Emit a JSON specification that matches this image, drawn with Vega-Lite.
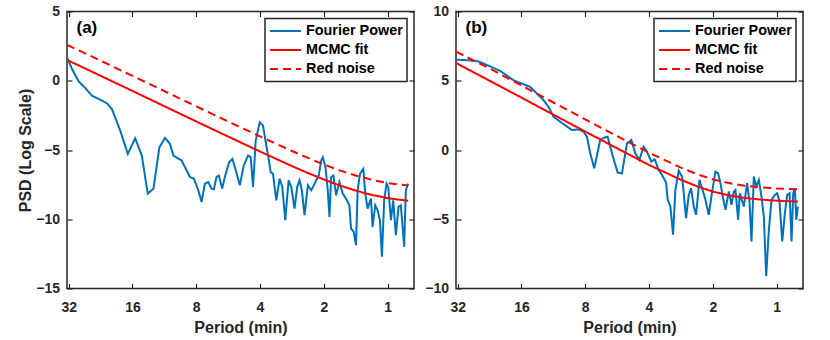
{
  "$schema": "https://vega.github.io/schema/vega-lite/v6.json",
  "padding": {"left": 17, "top": 3.5, "right": 5, "bottom": 5},
  "spacing": 8,
  "datasets": {
    "a": [
      {"series": "Fourier Power", "period": 32.57, "psd": 1.68},
      {"series": "Fourier Power", "period": 30.85, "psd": 0.84},
      {"series": "Fourier Power", "period": 28.71, "psd": -0.05},
      {"series": "Fourier Power", "period": 26.71, "psd": -0.53},
      {"series": "Fourier Power", "period": 24.84, "psd": -1.08},
      {"series": "Fourier Power", "period": 22.70, "psd": -1.37},
      {"series": "Fourier Power", "period": 21.12, "psd": -1.63},
      {"series": "Fourier Power", "period": 20.01, "psd": -2.04},
      {"series": "Fourier Power", "period": 18.28, "psd": -3.60},
      {"series": "Fourier Power", "period": 16.83, "psd": -5.28},
      {"series": "Fourier Power", "period": 15.54, "psd": -4.15},
      {"series": "Fourier Power", "period": 14.46, "psd": -5.40},
      {"series": "Fourier Power", "period": 13.55, "psd": -8.15},
      {"series": "Fourier Power", "period": 12.74, "psd": -7.79},
      {"series": "Fourier Power", "period": 11.94, "psd": -4.80},
      {"series": "Fourier Power", "period": 11.23, "psd": -4.13},
      {"series": "Fourier Power", "period": 10.64, "psd": -4.56},
      {"series": "Fourier Power", "period": 10.26, "psd": -5.40},
      {"series": "Fourier Power", "period": 9.373, "psd": -5.76},
      {"series": "Fourier Power", "period": 9.043, "psd": -6.24},
      {"series": "Fourier Power", "period": 8.566, "psd": -6.95},
      {"series": "Fourier Power", "period": 8.202, "psd": -7.07},
      {"series": "Fourier Power", "period": 7.824, "psd": -7.91},
      {"series": "Fourier Power", "period": 7.548, "psd": -8.75},
      {"series": "Fourier Power", "period": 7.283, "psd": -7.43},
      {"series": "Fourier Power", "period": 7.024, "psd": -7.31},
      {"series": "Fourier Power", "period": 6.774, "psd": -7.79},
      {"series": "Fourier Power", "period": 6.605, "psd": -7.84},
      {"series": "Fourier Power", "period": 6.416, "psd": -6.95},
      {"series": "Fourier Power", "period": 6.256, "psd": -6.84},
      {"series": "Fourier Power", "period": 6.035, "psd": -7.79},
      {"series": "Fourier Power", "period": 5.863, "psd": -6.95},
      {"series": "Fourier Power", "period": 5.594, "psd": -5.88},
      {"series": "Fourier Power", "period": 5.396, "psd": -5.64},
      {"series": "Fourier Power", "period": 5.203, "psd": -6.48},
      {"series": "Fourier Power", "period": 4.983, "psd": -7.55},
      {"series": "Fourier Power", "period": 4.774, "psd": -6.12},
      {"series": "Fourier Power", "period": 4.554, "psd": -5.40},
      {"series": "Fourier Power", "period": 4.426, "psd": -5.52},
      {"series": "Fourier Power", "period": 4.314, "psd": -7.67},
      {"series": "Fourier Power", "period": 4.192, "psd": -4.32},
      {"series": "Fourier Power", "period": 4.013, "psd": -3.00},
      {"series": "Fourier Power", "period": 3.871, "psd": -3.24},
      {"series": "Fourier Power", "period": 3.734, "psd": -4.68},
      {"series": "Fourier Power", "period": 3.641, "psd": -5.64},
      {"series": "Fourier Power", "period": 3.562, "psd": -6.60},
      {"series": "Fourier Power", "period": 3.475, "psd": -6.72},
      {"series": "Fourier Power", "period": 3.350, "psd": -8.63},
      {"series": "Fourier Power", "period": 3.232, "psd": -7.07},
      {"series": "Fourier Power", "period": 3.139, "psd": -7.67},
      {"series": "Fourier Power", "period": 3.040, "psd": -10.07},
      {"series": "Fourier Power", "period": 2.931, "psd": -7.19},
      {"series": "Fourier Power", "period": 2.848, "psd": -7.67},
      {"series": "Fourier Power", "period": 2.748, "psd": -9.23},
      {"series": "Fourier Power", "period": 2.670, "psd": -7.67},
      {"series": "Fourier Power", "period": 2.603, "psd": -7.19},
      {"series": "Fourier Power", "period": 2.538, "psd": -7.91},
      {"series": "Fourier Power", "period": 2.465, "psd": -9.71},
      {"series": "Fourier Power", "period": 2.377, "psd": -7.55},
      {"series": "Fourier Power", "period": 2.293, "psd": -7.91},
      {"series": "Fourier Power", "period": 2.228, "psd": -7.55},
      {"series": "Fourier Power", "period": 2.172, "psd": -7.19},
      {"series": "Fourier Power", "period": 2.111, "psd": -6.84},
      {"series": "Fourier Power", "period": 2.058, "psd": -5.76},
      {"series": "Fourier Power", "period": 2.021, "psd": -5.52},
      {"series": "Fourier Power", "period": 1.963, "psd": -6.24},
      {"series": "Fourier Power", "period": 1.915, "psd": -7.91},
      {"series": "Fourier Power", "period": 1.880, "psd": -9.83},
      {"series": "Fourier Power", "period": 1.846, "psd": -6.95},
      {"series": "Fourier Power", "period": 1.801, "psd": -6.84},
      {"series": "Fourier Power", "period": 1.749, "psd": -8.27},
      {"series": "Fourier Power", "period": 1.687, "psd": -7.31},
      {"series": "Fourier Power", "period": 1.628, "psd": -8.15},
      {"series": "Fourier Power", "period": 1.570, "psd": -8.51},
      {"series": "Fourier Power", "period": 1.514, "psd": -8.99},
      {"series": "Fourier Power", "period": 1.487, "psd": -10.67},
      {"series": "Fourier Power", "period": 1.445, "psd": -10.91},
      {"series": "Fourier Power", "period": 1.409, "psd": -11.87},
      {"series": "Fourier Power", "period": 1.384, "psd": -7.91},
      {"series": "Fourier Power", "period": 1.349, "psd": -6.72},
      {"series": "Fourier Power", "period": 1.301, "psd": -6.36},
      {"series": "Fourier Power", "period": 1.274, "psd": -8.15},
      {"series": "Fourier Power", "period": 1.242, "psd": -9.23},
      {"series": "Fourier Power", "period": 1.198, "psd": -8.51},
      {"series": "Fourier Power", "period": 1.176, "psd": -10.55},
      {"series": "Fourier Power", "period": 1.143, "psd": -8.99},
      {"series": "Fourier Power", "period": 1.114, "psd": -9.35},
      {"series": "Fourier Power", "period": 1.086, "psd": -10.07},
      {"series": "Fourier Power", "period": 1.063, "psd": -12.71},
      {"series": "Fourier Power", "period": 1.037, "psd": -8.63},
      {"series": "Fourier Power", "period": 1.011, "psd": -7.43},
      {"series": "Fourier Power", "period": 0.9925, "psd": -7.67},
      {"series": "Fourier Power", "period": 0.9642, "psd": -10.07},
      {"series": "Fourier Power", "period": 0.9401, "psd": -8.63},
      {"series": "Fourier Power", "period": 0.9135, "psd": -11.15},
      {"series": "Fourier Power", "period": 0.8875, "psd": -9.11},
      {"series": "Fourier Power", "period": 0.8653, "psd": -8.99},
      {"series": "Fourier Power", "period": 0.8346, "psd": -11.99},
      {"series": "Fourier Power", "period": 0.8197, "psd": -7.91},
      {"series": "Fourier Power", "period": 0.7993, "psd": -7.43},
      {"series": "MCMC fit", "period": 32.57, "psd": 1.50},
      {"series": "MCMC fit", "period": 22.63, "psd": 0.36},
      {"series": "MCMC fit", "period": 16, "psd": -0.74},
      {"series": "MCMC fit", "period": 11.31, "psd": -1.84},
      {"series": "MCMC fit", "period": 8, "psd": -2.94},
      {"series": "MCMC fit", "period": 5.657, "psd": -4.03},
      {"series": "MCMC fit", "period": 4, "psd": -5.11},
      {"series": "MCMC fit", "period": 2.828, "psd": -6.16},
      {"series": "MCMC fit", "period": 2.378, "psd": -6.66},
      {"series": "MCMC fit", "period": 2, "psd": -7.13},
      {"series": "MCMC fit", "period": 1.682, "psd": -7.56},
      {"series": "MCMC fit", "period": 1.414, "psd": -7.93},
      {"series": "MCMC fit", "period": 1.189, "psd": -8.24},
      {"series": "MCMC fit", "period": 1, "psd": -8.47},
      {"series": "MCMC fit", "period": 0.901, "psd": -8.57},
      {"series": "MCMC fit", "period": 0.7993, "psd": -8.66},
      {"series": "Red noise", "period": 32.57, "psd": 2.59},
      {"series": "Red noise", "period": 22.63, "psd": 1.45},
      {"series": "Red noise", "period": 16, "psd": 0.35},
      {"series": "Red noise", "period": 11.31, "psd": -0.75},
      {"series": "Red noise", "period": 8, "psd": -1.85},
      {"series": "Red noise", "period": 5.657, "psd": -2.94},
      {"series": "Red noise", "period": 4, "psd": -4.02},
      {"series": "Red noise", "period": 2.828, "psd": -5.07},
      {"series": "Red noise", "period": 2.378, "psd": -5.57},
      {"series": "Red noise", "period": 2, "psd": -6.04},
      {"series": "Red noise", "period": 1.682, "psd": -6.47},
      {"series": "Red noise", "period": 1.414, "psd": -6.84},
      {"series": "Red noise", "period": 1.189, "psd": -7.15},
      {"series": "Red noise", "period": 1, "psd": -7.38},
      {"series": "Red noise", "period": 0.901, "psd": -7.48},
      {"series": "Red noise", "period": 0.7993, "psd": -7.57}
    ],
    "b": [
      {"series": "Fourier Power", "period": 32.59, "psd": 6.52},
      {"series": "Fourier Power", "period": 28.49, "psd": 6.48},
      {"series": "Fourier Power", "period": 25.55, "psd": 6.40},
      {"series": "Fourier Power", "period": 22.51, "psd": 6.04},
      {"series": "Fourier Power", "period": 20.18, "psd": 5.71},
      {"series": "Fourier Power", "period": 17.46, "psd": 5.04},
      {"series": "Fourier Power", "period": 16.23, "psd": 4.84},
      {"series": "Fourier Power", "period": 14.56, "psd": 4.56},
      {"series": "Fourier Power", "period": 13.54, "psd": 4.08},
      {"series": "Fourier Power", "period": 12.59, "psd": 3.60},
      {"series": "Fourier Power", "period": 11.93, "psd": 3.12},
      {"series": "Fourier Power", "period": 11.29, "psd": 2.40},
      {"series": "Fourier Power", "period": 10.50, "psd": 2.04},
      {"series": "Fourier Power", "period": 9.251, "psd": 1.44},
      {"series": "Fourier Power", "period": 8.602, "psd": 1.49},
      {"series": "Fourier Power", "period": 8.147, "psd": 1.32},
      {"series": "Fourier Power", "period": 7.856, "psd": 0.96},
      {"series": "Fourier Power", "period": 7.578, "psd": -0.24},
      {"series": "Fourier Power", "period": 7.254, "psd": -1.32},
      {"series": "Fourier Power", "period": 6.797, "psd": 0.72},
      {"series": "Fourier Power", "period": 6.506, "psd": 0.89},
      {"series": "Fourier Power", "period": 6.275, "psd": 0.96},
      {"series": "Fourier Power", "period": 5.920, "psd": -0.48},
      {"series": "Fourier Power", "period": 5.626, "psd": -1.63},
      {"series": "Fourier Power", "period": 5.366, "psd": -1.68},
      {"series": "Fourier Power", "period": 5.082, "psd": 0.48},
      {"series": "Fourier Power", "period": 4.848, "psd": 0.72},
      {"series": "Fourier Power", "period": 4.643, "psd": -0.24},
      {"series": "Fourier Power", "period": 4.445, "psd": -0.72},
      {"series": "Fourier Power", "period": 4.240, "psd": 0.24},
      {"series": "Fourier Power", "period": 4.090, "psd": -0.12},
      {"series": "Fourier Power", "period": 3.900, "psd": -0.84},
      {"series": "Fourier Power", "period": 3.761, "psd": -0.67},
      {"series": "Fourier Power", "period": 3.600, "psd": -1.44},
      {"series": "Fourier Power", "period": 3.472, "psd": -1.80},
      {"series": "Fourier Power", "period": 3.324, "psd": -2.35},
      {"series": "Fourier Power", "period": 3.264, "psd": -3.60},
      {"series": "Fourier Power", "period": 3.170, "psd": -4.08},
      {"series": "Fourier Power", "period": 3.080, "psd": -6.12},
      {"series": "Fourier Power", "period": 3.003, "psd": -2.88},
      {"series": "Fourier Power", "period": 2.896, "psd": -1.49},
      {"series": "Fourier Power", "period": 2.793, "psd": -1.92},
      {"series": "Fourier Power", "period": 2.742, "psd": -3.12},
      {"series": "Fourier Power", "period": 2.674, "psd": -4.92},
      {"series": "Fourier Power", "period": 2.597, "psd": -3.24},
      {"series": "Fourier Power", "period": 2.532, "psd": -2.76},
      {"series": "Fourier Power", "period": 2.459, "psd": -4.08},
      {"series": "Fourier Power", "period": 2.398, "psd": -4.68},
      {"series": "Fourier Power", "period": 2.312, "psd": -2.16},
      {"series": "Fourier Power", "period": 2.246, "psd": -2.76},
      {"series": "Fourier Power", "period": 2.166, "psd": -3.60},
      {"series": "Fourier Power", "period": 2.089, "psd": -4.68},
      {"series": "Fourier Power", "period": 2.014, "psd": -3.00},
      {"series": "Fourier Power", "period": 1.943, "psd": -1.56},
      {"series": "Fourier Power", "period": 1.887, "psd": -1.68},
      {"series": "Fourier Power", "period": 1.840, "psd": -2.40},
      {"series": "Fourier Power", "period": 1.794, "psd": -3.36},
      {"series": "Fourier Power", "period": 1.742, "psd": -4.32},
      {"series": "Fourier Power", "period": 1.680, "psd": -3.00},
      {"series": "Fourier Power", "period": 1.632, "psd": -3.96},
      {"series": "Fourier Power", "period": 1.591, "psd": -3.00},
      {"series": "Fourier Power", "period": 1.563, "psd": -2.88},
      {"series": "Fourier Power", "period": 1.518, "psd": -5.04},
      {"series": "Fourier Power", "period": 1.491, "psd": -3.12},
      {"series": "Fourier Power", "period": 1.427, "psd": -4.08},
      {"series": "Fourier Power", "period": 1.377, "psd": -2.40},
      {"series": "Fourier Power", "period": 1.342, "psd": -3.72},
      {"series": "Fourier Power", "period": 1.313, "psd": -6.60},
      {"series": "Fourier Power", "period": 1.280, "psd": -1.92},
      {"series": "Fourier Power", "period": 1.248, "psd": -2.64},
      {"series": "Fourier Power", "period": 1.212, "psd": -2.16},
      {"series": "Fourier Power", "period": 1.178, "psd": -3.36},
      {"series": "Fourier Power", "period": 1.148, "psd": -4.80},
      {"series": "Fourier Power", "period": 1.119, "psd": -9.11},
      {"series": "Fourier Power", "period": 1.087, "psd": -5.76},
      {"series": "Fourier Power", "period": 1.056, "psd": -3.60},
      {"series": "Fourier Power", "period": 1.018, "psd": -3.24},
      {"series": "Fourier Power", "period": 0.993, "psd": -3.12},
      {"series": "Fourier Power", "period": 0.968, "psd": -3.72},
      {"series": "Fourier Power", "period": 0.940, "psd": -6.60},
      {"series": "Fourier Power", "period": 0.9133, "psd": -4.56},
      {"series": "Fourier Power", "period": 0.8904, "psd": -3.24},
      {"series": "Fourier Power", "period": 0.8680, "psd": -3.12},
      {"series": "Fourier Power", "period": 0.8493, "psd": -6.60},
      {"series": "Fourier Power", "period": 0.8340, "psd": -3.12},
      {"series": "Fourier Power", "period": 0.8190, "psd": -2.76},
      {"series": "Fourier Power", "period": 0.8072, "psd": -5.04},
      {"series": "Fourier Power", "period": 0.7927, "psd": -4.08},
      {"series": "MCMC fit", "period": 32.59, "psd": 6.28},
      {"series": "MCMC fit", "period": 22.63, "psd": 5.00},
      {"series": "MCMC fit", "period": 16, "psd": 3.78},
      {"series": "MCMC fit", "period": 11.31, "psd": 2.55},
      {"series": "MCMC fit", "period": 8, "psd": 1.33},
      {"series": "MCMC fit", "period": 5.657, "psd": 0.12},
      {"series": "MCMC fit", "period": 4, "psd": -1.08},
      {"series": "MCMC fit", "period": 2.828, "psd": -2.15},
      {"series": "MCMC fit", "period": 2.378, "psd": -2.62},
      {"series": "MCMC fit", "period": 2, "psd": -3.00},
      {"series": "MCMC fit", "period": 1.682, "psd": -3.27},
      {"series": "MCMC fit", "period": 1.414, "psd": -3.46},
      {"series": "MCMC fit", "period": 1.189, "psd": -3.58},
      {"series": "MCMC fit", "period": 1, "psd": -3.66},
      {"series": "MCMC fit", "period": 0.7927, "psd": -3.72},
      {"series": "Red noise", "period": 32.59, "psd": 7.10},
      {"series": "Red noise", "period": 22.63, "psd": 5.88},
      {"series": "Red noise", "period": 16, "psd": 4.66},
      {"series": "Red noise", "period": 11.31, "psd": 3.43},
      {"series": "Red noise", "period": 8, "psd": 2.21},
      {"series": "Red noise", "period": 5.657, "psd": 1.00},
      {"series": "Red noise", "period": 4, "psd": -0.20},
      {"series": "Red noise", "period": 2.828, "psd": -1.27},
      {"series": "Red noise", "period": 2.378, "psd": -1.74},
      {"series": "Red noise", "period": 2, "psd": -2.12},
      {"series": "Red noise", "period": 1.682, "psd": -2.39},
      {"series": "Red noise", "period": 1.414, "psd": -2.58},
      {"series": "Red noise", "period": 1.189, "psd": -2.70},
      {"series": "Red noise", "period": 1, "psd": -2.78},
      {"series": "Red noise", "period": 0.7927, "psd": -2.84}
    ]
  },
  "hconcat": [
    {
      "data": {"name": "a"},
      "width": 347,
      "height": 277,
      "layer": [
        {
          "mark": {"type": "line", "strokeWidth": 2},
          "encoding": {
            "x": {"field": "period", "type": "quantitative", "scale": {"type": "log", "domain": [0.75, 32.6], "reverse": true, "nice": false}, "axis": {"values": [1, 2, 4, 8, 16, 32], "format": "d", "title": "Period (min)"}},
            "y": {"field": "psd", "type": "quantitative", "scale": {"domain": [-15, 5], "nice": false, "zero": false}, "axis": {"values": [-15, -10, -5, 0, 5], "title": "PSD (Log Scale)"}},
            "color": {"field": "series", "type": "nominal", "scale": {"domain": ["Fourier Power", "MCMC fit", "Red noise"], "range": ["#0072BD", "#FF0000", "#FF0000"]}, "legend": {"title": null}},
            "strokeDash": {"field": "series", "type": "nominal", "scale": {"domain": ["Fourier Power", "MCMC fit", "Red noise"], "range": [[1, 0], [1, 0], [8, 5]]}, "legend": {"title": null}}
          }
        },
        {
          "mark": {"type": "point", "opacity": 0},
          "encoding": {
            "x": {"field": "period", "type": "quantitative", "axis": {"orient": "top", "values": [1, 2, 4, 8, 16, 32], "labels": false, "title": null}},
            "y": {"field": "psd", "type": "quantitative", "axis": {"orient": "right", "values": [-15, -10, -5, 0, 5], "labels": false, "title": null}}
          }
        },
        {
          "data": {"values": [{"label": "(a)", "period": 29.4, "psd": 3.44}]},
          "mark": {"type": "text", "align": "left", "baseline": "alphabetic", "fontSize": 17, "fontWeight": "bold", "font": "Liberation Sans", "color": "#000000"},
          "encoding": {
            "x": {"field": "period", "type": "quantitative", "axis": null},
            "y": {"field": "psd", "type": "quantitative", "axis": null},
            "text": {"field": "label"}
          }
        }
      ],
      "resolve": {"axis": {"x": "independent", "y": "independent"}}
    },
    {
      "data": {"name": "b"},
      "width": 347,
      "height": 277,
      "layer": [
        {
          "mark": {"type": "line", "strokeWidth": 2},
          "encoding": {
            "x": {"field": "period", "type": "quantitative", "scale": {"type": "log", "domain": [0.75, 32.6], "reverse": true, "nice": false}, "axis": {"values": [1, 2, 4, 8, 16, 32], "format": "d", "title": "Period (min)"}},
            "y": {"field": "psd", "type": "quantitative", "scale": {"domain": [-10, 10], "nice": false, "zero": false}, "axis": {"values": [-10, -5, 0, 5, 10], "title": null}},
            "color": {"field": "series", "type": "nominal", "scale": {"domain": ["Fourier Power", "MCMC fit", "Red noise"], "range": ["#0072BD", "#FF0000", "#FF0000"]}, "legend": {"title": null}},
            "strokeDash": {"field": "series", "type": "nominal", "scale": {"domain": ["Fourier Power", "MCMC fit", "Red noise"], "range": [[1, 0], [1, 0], [8, 5]]}, "legend": {"title": null}}
          }
        },
        {
          "mark": {"type": "point", "opacity": 0},
          "encoding": {
            "x": {"field": "period", "type": "quantitative", "axis": {"orient": "top", "values": [1, 2, 4, 8, 16, 32], "labels": false, "title": null}},
            "y": {"field": "psd", "type": "quantitative", "axis": {"orient": "right", "values": [-10, -5, 0, 5, 10], "labels": false, "title": null}}
          }
        },
        {
          "data": {"values": [{"label": "(b)", "period": 29.4, "psd": 8.44}]},
          "mark": {"type": "text", "align": "left", "baseline": "alphabetic", "fontSize": 17, "fontWeight": "bold", "font": "Liberation Sans", "color": "#000000"},
          "encoding": {
            "x": {"field": "period", "type": "quantitative", "axis": null},
            "y": {"field": "psd", "type": "quantitative", "axis": null},
            "text": {"field": "label"}
          }
        }
      ],
      "resolve": {"axis": {"x": "independent", "y": "independent"}}
    }
  ],
  "resolve": {
    "scale": {"x": "independent", "y": "independent", "color": "independent", "strokeDash": "independent"},
    "legend": {"color": "independent", "strokeDash": "independent"}
  },
  "config": {
    "font": "Liberation Sans",
    "view": {"stroke": "#262626", "strokeWidth": 1.5},
    "axis": {
      "grid": false, "domain": false,
      "labelFont": "Liberation Sans", "labelFontSize": 14, "labelFontWeight": "bold", "labelColor": "#262626",
      "titleFont": "Liberation Sans", "titleFontSize": 16, "titleFontWeight": "bold", "titleColor": "#262626",
      "tickColor": "#262626", "tickSize": -5, "tickWidth": 1.2,
      "labelFlush": false, "labelOverlap": false, "labelPadding": 12.5
    },
    "axisX": {"titlePadding": 5, "labelPadding": 17},
    "axisY": {"titlePadding": 2},
    "legend": {
      "orient": "top-right", "offset": 7, "padding": 4,
      "fillColor": "#FFFFFF", "strokeColor": "#262626", "strokeWidth": 1.5,
      "symbolType": "stroke", "symbolSize": 961, "symbolStrokeWidth": 2,
      "labelFont": "Liberation Sans", "labelFontSize": 14.4, "labelFontWeight": "bold", "labelColor": "#000000",
      "labelOffset": 4, "rowPadding": 2, "clipHeight": 17
    }
  }
}
